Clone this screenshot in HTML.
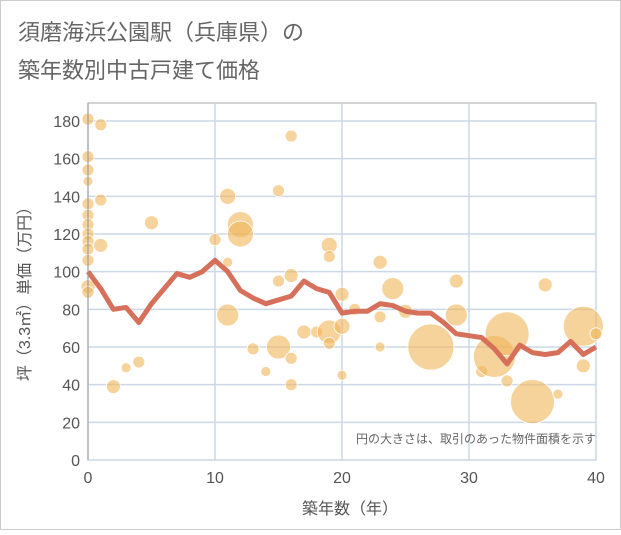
<!DOCTYPE html>
<html><head><meta charset="utf-8"><style>
body{margin:0;background:#fff;}
svg text{font-family:"Liberation Sans","Noto Sans CJK JP",sans-serif;}
</style></head><body>
<svg id="chart" width="621" height="530" viewBox="0 0 621 530" xmlns="http://www.w3.org/2000/svg">
<rect x="0.5" y="0.5" width="620" height="529" fill="#fff" stroke="#ccc"/>
<text x="18" y="40" font-size="22" fill="#666">須磨海浜公園駅（兵庫県）の</text>
<text x="18" y="78" font-size="22" fill="#666">築年数別中古戸建て価格</text>
<g id="grid"></g>
<g id="bubbles"></g>
<g id="line"></g>
<g id="axes"></g>
<text x="596" y="443" font-size="12" fill="#666" text-anchor="end">円の大きさは、取引のあった物件面積を示す</text>
<text x="350" y="514" font-size="16" fill="#555" text-anchor="middle">築年数（年）</text>
<text transform="translate(30,290) rotate(-90)" font-size="16" fill="#555" text-anchor="middle">坪（3.3㎡）単価（万円）</text>
</svg>
<script>
const xTicks=[0,10,20,30,40];
const yTicks=[0,20,40,60,80,100,120,140,160,180];
const lineAges=[0,1,2,3,4,5,6,7,8,9,10,11,12,13,14,15,16,17,18,19,20,21,22,23,24,25,26,27,28,29,30,31,32,33,34,35,36,37,38,39,40];
const lineValues=[100,91,80,81,73,83,91,99,97,100,106,100,90,86,83,85,87,95,91,89,78,79,79,83,82,79,78,78,73,67,66,65,59,51,61,57,56,57,63,56,60];
const bubbleAges=[0,1,0,0,0,0,1,0,0,0,0,0,0,1,0,0,3,4,2,5,10,11,12,12,11,11,13,14,15,16,16,16,15,16,15,17,18,19,19,19,19,20,20,20,21,23,23,23,24,25,27,29,29,31,32,33,33,35,36,37,39,39,40];
const bubbleValues=[181,178,161,154,148,136,138,130,125,120,116,112,106,114,92,89,49,52,39,126,117,140,125,120,105,77,59,47,60,54,40,172,143,98,95,68,68,68,114,108,62,88,71,45,80,105,76,60,91,79,60,95,77,47,55,67,42,31,93,35,71,50,67];
const bubbleSizes=[6,6,6,6,5,6,6,6,6,6,6,6,6,7,7,6,5,6,7,7,6,8,13,13,5,11,6,5,12,6,6,6,6,7,6,7,6,12,8,6,6,7,8,5,6,7,6,5,11,7,23,7,11,6,21,22,6,22,7,5,20,7,6];
const X0=88,X1=596,Y0=460,Y1=121;
const sx=a=>X0+(a-0)/(40-0)*(X1-X0);
const sy=v=>Y0-(v-0)/(180-0)*(Y0-Y1);
const NS="http://www.w3.org/2000/svg";
function mk(tag,parent,attrs){const e=document.createElementNS(NS,tag);for(const k in attrs)e.setAttribute(k,attrs[k]);document.getElementById(parent).appendChild(e);return e;}
const frame=mk('rect','grid',{x:X0,y:103,width:X1-X0,height:Y0-103,fill:'none',stroke:'#aaa'});


yTicks.forEach(t=>{
 const l=mk('line','grid',{x1:X0,x2:X1,y1:sy(t),y2:sy(t),stroke:'#ccd8e6','stroke-width':1.5});
 
 
 const tx=mk('text','axes',{x:X0-8,y:sy(t)+6,'font-size':16,fill:'#555','text-anchor':'end'});
 tx.textContent=t;
 
 
});
xTicks.forEach(t=>{
 const l=mk('line','grid',{x1:sx(t),x2:sx(t),y1:103,y2:Y0,stroke:'#ccd8e6','stroke-width':1.5});
 
 
 const tx=mk('text','axes',{x:sx(t),y:Y0+23,'font-size':16,fill:'#555','text-anchor':'middle'});
 tx.textContent=t;
 
 
});
const ax=mk('line','axes',{x1:X0,x2:X0,y1:103,y2:Y0,stroke:'#999'});


bubbleAges.forEach((a,i)=>{
 const c=mk('circle','bubbles',{cx:sx(a),cy:sy(bubbleValues[i]),r:bubbleSizes[i],fill:'#f0b558','fill-opacity':0.6,stroke:'#fff','stroke-width':0.8});
 
 
});
const p=mk('polyline','line',{points:lineAges.map((a,i)=>sx(a)+','+sy(lineValues[i])).join(' '),fill:'none',stroke:'#d6705a','stroke-width':5,'stroke-linejoin':'round'});


</script>
</body></html>
